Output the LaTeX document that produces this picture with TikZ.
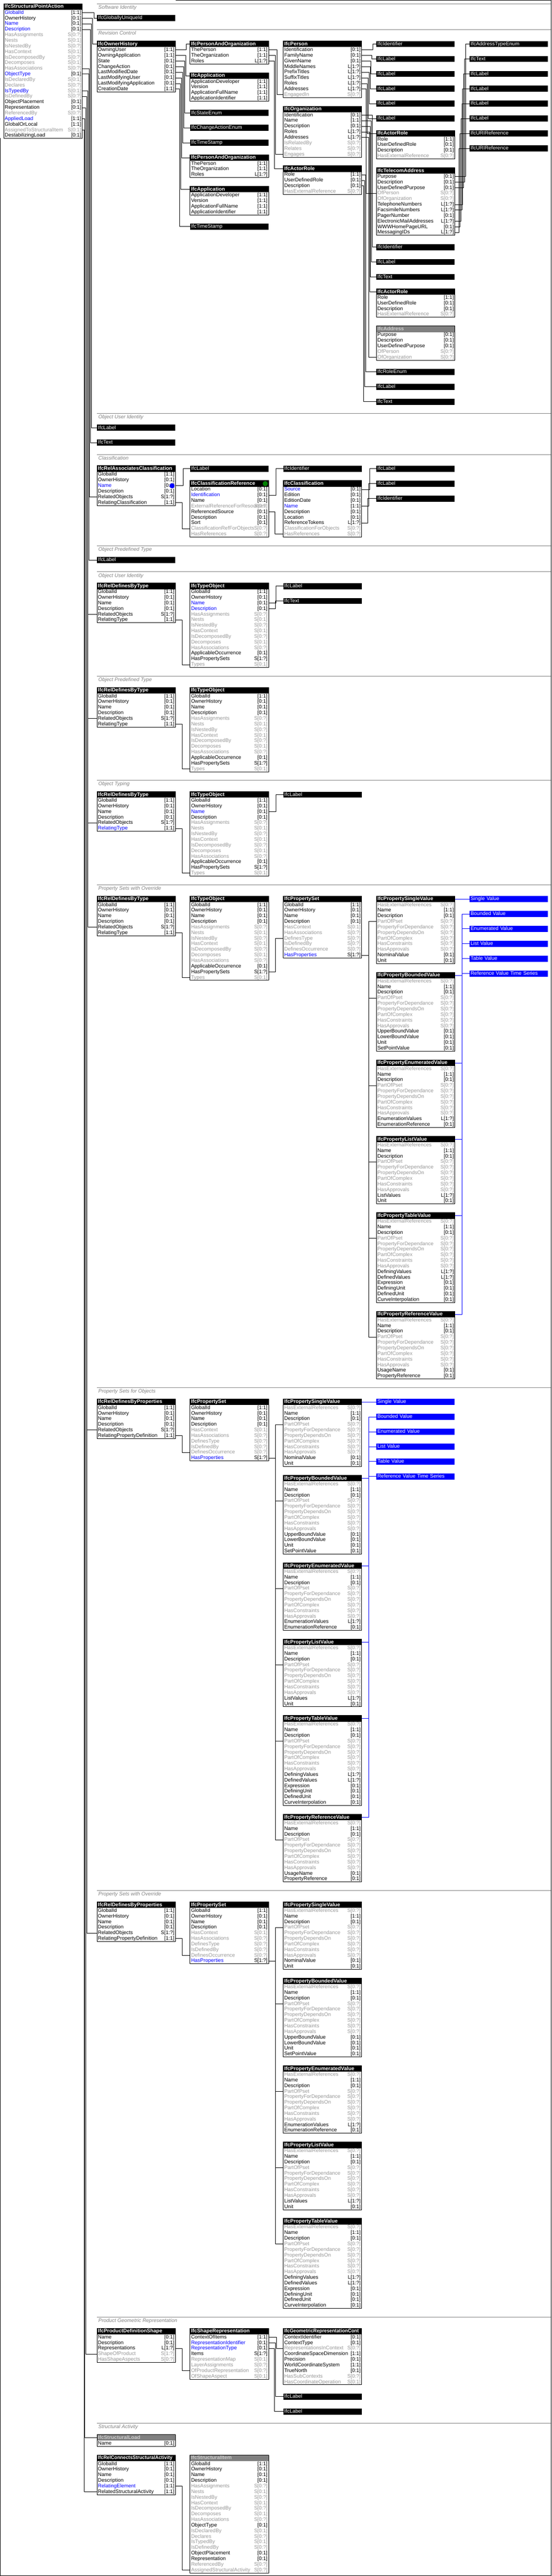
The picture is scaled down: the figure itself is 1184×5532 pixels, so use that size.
\documentclass[tikz,border=0pt]{standalone}
\usepackage{fontspec}
\setmainfont{Liberation Sans}
\usepackage{graphicx}
\newcommand\rfont{\fontsize{11}{12}\selectfont}
\newcommand\hfont{\fontsize{11}{12}\selectfont\bfseries}
\newcommand\slfont{\fontsize{11}{12}\selectfont\itshape}
% row colours: name / cardinality
\definecolor{cn}{RGB}{0,0,0}\definecolor{cnc}{RGB}{0,0,0}
\definecolor{cu}{RGB}{0,0,255}\definecolor{cuc}{RGB}{0,0,0}
\definecolor{cg}{RGB}{150,150,150}\definecolor{cgc}{RGB}{150,150,150}
\definecolor{cv}{RGB}{0,0,255}\definecolor{cvc}{RGB}{150,150,150}
\definecolor{secgray}{RGB}{128,128,128}
\definecolor{absgray}{RGB}{128,128,128}
\definecolor{dotgreen}{RGB}{0,128,0}
\tikzset{
  hd/.style={anchor=north west, fill=black, text=white, font=\hfont, text width=164pt, align=left,
    inner xsep=2pt, inner ysep=1pt, text height=8.5pt, text depth=2.5pt},
  ha/.style={hd, fill=absgray, text=black!20},
  ty/.style={hd, font=\rfont},
  bvl/.style={ty, fill=blue},
  row/.style={anchor=north west, font=\rfont, text width=164pt, align=left,
    inner xsep=2pt, inner ysep=0.5pt, text height=8.5pt, text depth=2.5pt},
  card/.style={anchor=east, font=\rfont, inner xsep=2pt, inner ysep=0.5pt, text height=8.5pt, text depth=2.5pt},
  bd/.style={draw=black, line width=1pt},
  cn/.style={draw=black, line width=1pt},
  bcn/.style={draw=blue, line width=1pt},
  secline/.style={draw=secgray, line width=1pt},
  seclab/.style={anchor=north west, font=\slfont, text=secgray, inner sep=0pt}
}
\newsavebox\hbx
\newcommand\fitw[2]{\sbox\hbx{#2}\ifdim\wd\hbx>#1pt\relax\pgfmathsetmacro\fitr{#1/\the\wd\hbx}\scalebox{\fitr}[1]{\usebox\hbx}\else\usebox\hbx\fi}
% entity box: name, x, y, header style, title, rows
\newcommand\ent[6]{%
  \node[#4] (#1) at (#2,#3) {\fitw{160}{#5}};
  \edef\entrows{#6}%
  \foreach \rn/\rc/\rs [count=\i] in \entrows {%
    \node[row, text=c\rs] (#1-\i) at (#2,#3+1+12*\i) {\mbox{\rn}};
    \node[card, text=c\rs c] at (#1-\i.east) {\rc};
    \xdef\nrows{\i}}%
  \draw[bd] (#1.north west) rectangle (#1-\nrows.south east);}
\def\rhead{GlobalId/[1:1]/n, OwnerHistory/[0:1]/n, Name/[0:1]/n, Description/[0:1]/n}
\def\totail{HasAssignments/S[0:?]/g, Nests/S[0:1]/g, IsNestedBy/S[0:?]/g, HasContext/S[0:1]/g, IsDecomposedBy/S[0:?]/g, Decomposes/S[0:1]/g, HasAssociations/S[0:?]/g, ApplicableOccurrence/[0:1]/n, HasPropertySets/S[1:?]/n, Types/S[0:1]/g}
\def\psrows{\rhead, HasContext/S[0:1]/g, HasAssociations/S[0:?]/g, DefinesType/S[0:?]/g, IsDefinedBy/S[0:?]/g, DefinesOccurrence/S[0:?]/g, HasProperties/S[1:?]/u}
\def\pcom{HasExternalReferences/S[0:?]/g, Name/[1:1]/n, Description/[0:1]/n, PartOfPset/S[0:?]/g, PropertyForDependance/S[0:?]/g, PropertyDependsOn/S[0:?]/g, PartOfComplex/S[0:?]/g, HasConstraints/S[0:?]/g, HasApprovals/S[0:?]/g}
\def\arrows{Role/[1:1]/n, UserDefinedRole/[0:1]/n, Description/[0:1]/n, HasExternalReference/S[0:?]/g}
\def\paorows{ThePerson/[1:1]/n, TheOrganization/[1:1]/n, Roles/L[1:?]/n}
\def\approws{ApplicationDeveloper/[1:1]/n, Version/[1:1]/n, ApplicationFullName/[1:1]/n, ApplicationIdentifier/[1:1]/n}
\newcommand\pvals[3]{%
  \ent{sv#1}{#2}{#3}{hd}{IfcPropertySingleValue}{\pcom, NominalValue/[0:1]/n, Unit/[0:1]/n}
  \ent{bv#1}{#2}{#3+164}{hd}{IfcPropertyBoundedValue}{\pcom, UpperBoundValue/[0:1]/n, LowerBoundValue/[0:1]/n, Unit/[0:1]/n, SetPointValue/[0:1]/n}
  \ent{ev#1}{#2}{#3+352}{hd}{IfcPropertyEnumeratedValue}{\pcom, EnumerationValues/L[1:?]/n, EnumerationReference/[0:1]/n}
  \ent{lv#1}{#2}{#3+516}{hd}{IfcPropertyListValue}{\pcom, ListValues/L[1:?]/n, Unit/[0:1]/n}
  \ent{tv#1}{#2}{#3+680}{hd}{IfcPropertyTableValue}{\pcom, DefiningValues/L[1:?]/n, DefinedValues/L[1:?]/n, Expression/[0:1]/n, DefiningUnit/[0:1]/n, DefinedUnit/[0:1]/n, CurveInterpolation/[0:1]/n}}
\newcommand\pref[3]{\ent{rv#1}{#2}{#3}{hd}{IfcPropertyReferenceValue}{\pcom, UsageName/[0:1]/n, PropertyReference/[0:1]/n}}
\begin{document}
\begin{tikzpicture}[x=1pt, y=-1pt, font=\rfont, line join=round]
\useasboundingbox (0,0) rectangle (1184,5532);
\draw[bd] (377,0.5) -- (1183.5,0.5) -- (1183.5,5531.5) -- (0.5,5531.5) -- (0.5,297);
% sections
\foreach \yy/\tx [count=\k] in {8/Software Identity, 64/Revision Control, 888/Object User Identity, 976/Classification, 1172/Object Predefined Type, 1228/Object User Identity, 1452/Object Predefined Type, 1676/Object Typing, 1900/Property Sets with Override, 2980/Property Sets for Objects, 4060/Property Sets with Override, 4976/Product Geometric Representation, 5204/Structural Activity}{
  \draw[secline] (208,\yy) -- (1183,\yy);
  \node[seclab] (sec\k) at (211,\yy+3) {\tx};}

\ent{spa}{8}{8}{hd}{IfcStructuralPointAction}{GlobalId/[1:1]/u, OwnerHistory/[0:1]/n, Name/[0:1]/u, Description/[0:1]/u, HasAssignments/S[0:?]/g, Nests/S[0:1]/g, IsNestedBy/S[0:?]/g, HasContext/S[0:1]/g, IsDecomposedBy/S[0:?]/g, Decomposes/S[0:1]/g, HasAssociations/S[0:?]/g, ObjectType/[0:1]/u, IsDeclaredBy/S[0:1]/g, Declares/S[0:?]/g, IsTypedBy/S[0:1]/v, IsDefinedBy/S[0:?]/g, ObjectPlacement/[0:1]/n, Representation/[0:1]/n, ReferencedBy/S[0:?]/g, AppliedLoad/[1:1]/u, GlobalOrLocal/[1:1]/n, AssignedToStructuralItem/S[0:1]/g, DestabilizingLoad/[0:1]/n}

% software identity, revision control
\node[ty] (guid) at (208,32) {IfcGloballyUniqueId};
\ent{oh}{208}{88}{hd}{IfcOwnerHistory}{OwningUser/[1:1]/n, OwningApplication/[1:1]/n, State/[0:1]/n, ChangeAction/[0:1]/n, LastModifiedDate/[0:1]/n, LastModifyingUser/[0:1]/n, LastModifyingApplication/[0:1]/n, CreationDate/[1:1]/n}
\ent{paoa}{408}{88}{hd}{IfcPersonAndOrganization}{\paorows}
\ent{appa}{408}{156}{hd}{IfcApplication}{\approws}
\node[ty] (stat) at (408,236) {IfcStateEnum};
\node[ty] (chg) at (408,268) {IfcChangeActionEnum};
\node[ty] (tsa) at (408,300) {IfcTimeStamp};
\ent{paob}{408}{332}{hd}{IfcPersonAndOrganization}{\paorows}
\ent{appb}{408}{400}{hd}{IfcApplication}{\approws}
\node[ty] (tsb) at (408,480) {IfcTimeStamp};
\ent{per}{608}{88}{hd}{IfcPerson}{Identification/[0:1]/n, FamilyName/[0:1]/n, GivenName/[0:1]/n, MiddleNames/L[1:?]/n, PrefixTitles/L[1:?]/n, SuffixTitles/L[1:?]/n, Roles/L[1:?]/n, Addresses/L[1:?]/n, EngagedIn/S[0:?]/g}
\ent{org}{608}{228}{hd}{IfcOrganization}{Identification/[0:1]/n, Name/[1:1]/n, Description/[0:1]/n, Roles/L[1:?]/n, Addresses/L[1:?]/n, IsRelatedBy/S[0:?]/g, Relates/S[0:?]/g, Engages/S[0:?]/g}
\ent{ara}{608}{356}{hd}{IfcActorRole}{\arrows}
\foreach \nm/\yy/\tx in {pid/88/IfcIdentifier, pla/120/IfcLabel, plb/152/IfcLabel, plc/184/IfcLabel, pld/216/IfcLabel, ple/248/IfcLabel, oid/524/IfcIdentifier, olab/556/IfcLabel, otxt/588/IfcText, renum/792/IfcRoleEnum, rlab/824/IfcLabel, rtxt/856/IfcText}
  \node[ty] (\nm) at (808,\yy) {\tx};
\ent{arb}{808}{280}{hd}{IfcActorRole}{\arrows}
\ent{tel}{808}{360}{hd}{IfcTelecomAddress}{Purpose/[0:1]/n, Description/[0:1]/n, UserDefinedPurpose/[0:1]/n, OfPerson/S[0:?]/g, OfOrganization/S[0:?]/g, TelephoneNumbers/L[1:?]/n, FacsimileNumbers/L[1:?]/n, PagerNumber/[0:1]/n, ElectronicMailAddresses/L[1:?]/n, WWWHomePageURL/[0:1]/n, MessagingIDs/L[1:?]/n}
\ent{arc}{808}{620}{hd}{IfcActorRole}{\arrows}
\ent{adr}{808}{700}{ha}{IfcAddress}{Purpose/[0:1]/n, Description/[0:1]/n, UserDefinedPurpose/[0:1]/n, OfPerson/S[0:?]/g, OfOrganization/S[0:?]/g}
\foreach \nm/\yy/\tx in {ate/88/IfcAddressTypeEnum, ttxt/120/IfcText, tla/152/IfcLabel, tlb/184/IfcLabel, tlc/216/IfcLabel, tld/248/IfcLabel, ura/280/IfcURIReference, urb/312/IfcURIReference}
  \node[ty] (\nm) at (1008,\yy) {\tx};

% object user identity, classification, predefined type
\node[ty] (ouilab) at (208,912) {IfcLabel};
\node[ty] (ouitxt) at (208,944) {IfcText};
\ent{rac}{208}{1000}{hd}{IfcRelAssociatesClassification}{GlobalId/[1:1]/n, OwnerHistory/[0:1]/n, Name/[0:1]/u, Description/[0:1]/n, RelatedObjects/S[1:?]/n, RelatingClassification/[1:1]/n}
\node[ty] (clab) at (408,1000) {IfcLabel};
\ent{cref}{408}{1032}{hd}{IfcClassificationReference}{Location/[0:1]/n, Identification/[0:1]/u, Name/[0:1]/n, ExternalReferenceForResources/S[0:?]/g, ReferencedSource/[0:1]/n, Description/[0:1]/n, Sort/[0:1]/n, ClassificationRefForObjects/S[0:?]/g, HasReferences/S[0:?]/g}
\node[ty] (cid) at (608,1000) {IfcIdentifier};
\ent{cls}{608}{1032}{hd}{IfcClassification}{Source/[0:1]/u, Edition/[0:1]/n, EditionDate/[0:1]/n, Name/[1:1]/u, Description/[0:1]/n, Location/[0:1]/n, ReferenceTokens/L[1:?]/n, ClassificationForObjects/S[0:?]/g, HasReferences/S[0:?]/g}
\node[ty] (xla) at (808,1000) {IfcLabel};
\node[ty] (xlb) at (808,1032) {IfcLabel};
\node[ty] (xid) at (808,1064) {IfcIdentifier};
\fill[blue] ([xshift=-7pt]rac-3.east) circle (5.5pt);
\fill[dotgreen] ([xshift=-7pt]cref.east) circle (5.5pt);
\node[ty] (optlab) at (208,1196) {IfcLabel};

% typing
\ent{rdta}{208}{1252}{hd}{IfcRelDefinesByType}{\rhead, RelatedObjects/S[1:?]/n, RelatingType/[1:1]/n}
\ent{toa}{408}{1252}{hd}{IfcTypeObject}{GlobalId/[1:1]/n, OwnerHistory/[0:1]/n, Name/[0:1]/u, Description/[0:1]/u, \totail}
\node[ty] (ula) at (608,1252) {IfcLabel};
\node[ty] (uta) at (608,1284) {IfcText};
\ent{rdtb}{208}{1476}{hd}{IfcRelDefinesByType}{\rhead, RelatedObjects/S[1:?]/n, RelatingType/[1:1]/n}
\ent{tob}{408}{1476}{hd}{IfcTypeObject}{\rhead, \totail}
\ent{rdtc}{208}{1700}{hd}{IfcRelDefinesByType}{\rhead, RelatedObjects/S[1:?]/n, RelatingType/[1:1]/u}
\ent{toc}{408}{1700}{hd}{IfcTypeObject}{GlobalId/[1:1]/n, OwnerHistory/[0:1]/n, Name/[0:1]/u, Description/[0:1]/n, \totail}
\node[ty] (ulc) at (608,1700) {IfcLabel};

% property sets with override
\ent{rdtd}{208}{1924}{hd}{IfcRelDefinesByType}{\rhead, RelatedObjects/S[1:?]/n, RelatingType/[1:1]/n}
\ent{tod}{408}{1924}{hd}{IfcTypeObject}{\rhead, \totail}
\ent{psa}{608}{1924}{hd}{IfcPropertySet}{\psrows}
\pvals{a}{808}{1924}
\pref{a}{808}{2816}
\foreach \tx [count=\k] in {Single Value, Bounded Value, Enumerated Value, List Value, Table Value, Reference Value Time Series}
  \node[bvl] (bla\k) at (1008,1892+32*\k) {\tx};

% property sets for objects
\ent{rdpa}{208}{3004}{hd}{IfcRelDefinesByProperties}{\rhead, RelatedObjects/S[1:?]/n, RelatingPropertyDefinition/[1:1]/n}
\ent{psb}{408}{3004}{hd}{IfcPropertySet}{\psrows}
\pvals{b}{608}{3004}
\pref{b}{608}{3896}
\foreach \tx [count=\k] in {Single Value, Bounded Value, Enumerated Value, List Value, Table Value, Reference Value Time Series}
  \node[bvl] (blb\k) at (808,2972+32*\k) {\tx};

% property sets with override
\ent{rdpb}{208}{4084}{hd}{IfcRelDefinesByProperties}{\rhead, RelatedObjects/S[1:?]/n, RelatingPropertyDefinition/[1:1]/n}
\ent{psc}{408}{4084}{hd}{IfcPropertySet}{\psrows}
\pvals{c}{608}{4084}

% product geometric representation
\ent{pds}{208}{5000}{hd}{IfcProductDefinitionShape}{Name/[0:1]/n, Description/[0:1]/n, Representations/L[1:?]/n, ShapeOfProduct/S[1:?]/g, HasShapeAspects/S[0:?]/g}
\ent{shr}{408}{5000}{hd}{IfcShapeRepresentation}{ContextOfItems/[1:1]/n, RepresentationIdentifier/[0:1]/u, RepresentationType/[0:1]/u, Items/S[1:?]/n, RepresentationMap/S[0:1]/g, LayerAssignments/S[0:?]/g, OfProductRepresentation/S[0:?]/g, OfShapeAspect/S[0:1]/g}
\ent{grc}{608}{5000}{hd}{IfcGeometricRepresentationCont}{ContextIdentifier/[0:1]/n, ContextType/[0:1]/n, RepresentationsInContext/S[0:?]/g, CoordinateSpaceDimension/[1:1]/n, Precision/[0:1]/n, WorldCoordinateSystem/[1:1]/n, TrueNorth/[0:1]/n, HasSubContexts/S[0:?]/g, HasCoordinateOperation/S[0:1]/g}
\node[ty] (gla) at (608,5140) {IfcLabel};
\node[ty] (glb) at (608,5172) {IfcLabel};

% structural activity
\ent{sload}{208}{5228}{ha}{IfcStructuralLoad}{Name/[0:1]/n}
\ent{rcsa}{208}{5272}{hd}{IfcRelConnectsStructuralActivity}{\rhead, RelatingElement/[1:1]/u, RelatedStructuralActivity/[1:1]/n}
\ent{sitem}{408}{5272}{ha}{IfcStructuralItem}{\rhead, HasAssignments/S[0:?]/g, Nests/S[0:1]/g, IsNestedBy/S[0:?]/g, HasContext/S[0:1]/g, IsDecomposedBy/S[0:?]/g, Decomposes/S[0:1]/g, HasAssociations/S[0:?]/g, ObjectType/[0:1]/n, IsDeclaredBy/S[0:1]/g, Declares/S[0:?]/g, IsTypedBy/S[0:1]/g, IsDefinedBy/S[0:?]/g, ObjectPlacement/[0:1]/n, Representation/[0:1]/n, ReferencedBy/S[0:?]/g, AssignedStructuralActivity/S[0:?]/g}

% connectors from the root
\foreach \s/\d/\t in {1/26/guid, 2/22/oh, 3/20/ouilab, 4/18/ouitxt, 11/16/rac-5, 12/14/optlab, 15/12/rdta-5, 15/12/rdtb-5, 15/12/rdtc-5, 15/12/rdtd-5, 16/10/rdpa-5, 16/10/rdpb-5, 18/8/pds-4, 20/6/sload, 22/4/rcsa-6}
  \draw[cn] (spa-\s.east) -- ++(\d,0) |- (\t.west);
% revision control
\foreach \s/\d/\t in {1/24/paoa, 2/22/appa, 3/20/stat, 4/18/chg, 5/16/tsa, 6/13/paob, 7/11/appb, 8/9/tsb}
  \draw[cn] (oh-\s.east) -- ++(\d,0) |- (\t.west);
\foreach \s/\d/\t in {1/18/per-9, 2/15/org-8, 3/13/ara}
  \draw[cn] (paoa-\s.east) -- ++(\d,0) |- (\t.west);
\foreach \s/\d/\t in {1/24/pid, 2/22/pla, 3/20/plb, 4/18/plc, 5/16/pld, 6/14/ple, 7/12/arb, 8/10/tel-4}
  \draw[cn] (per-\s.east) -- ++(\d,0) |- (\t.west);
\foreach \s/\d/\t in {1/23/oid, 2/21/olab, 3/19/otxt, 4/17/arc, 5/15/adr-5}
  \draw[cn] (org-\s.east) -- ++(\d,0) |- (\t.west);
\foreach \s/\d/\t in {1/8/renum, 2/6/rlab, 3/4/rtxt}
  \draw[cn] (ara-\s.east) -- ++(\d,0) |- (\t.west);
\foreach \s/\d/\t in {1/23/ate, 2/21/ttxt, 3/19/tla, 6/17/tlb, 7/15/tlc, 9/13/tld, 10/11/ura, 11/9/urb}
  \draw[cn] (tel-\s.east) -- ++(\d,0) |- (\t.west);
% classification
\draw[cn] (rac-3.east) -- ++(17,0) |- (clab.west);
\draw[cn] (rac-6.east) -- ++(15,0) |- (cref-8.west);
\draw[cn] (cref-2.east) -- ++(16,0) |- (cid.west);
\draw[cn] (cref-5.east) -- ++(14,0) |- (cls-9.west);
\foreach \s/\d/\t in {1/17/xla, 4/15/xlb, 7/13/xid}
  \draw[cn] (cls-\s.east) -- ++(\d,0) |- (\t.west);
% typing
\foreach \r/\t in {rdta/toa, rdtb/tob, rdtc/toc, rdtd/tod}
  \draw[cn] (\r-6.east) -- ++(15,0) |- (\t-14.west);
\draw[cn] (toa-3.east) -- ++(16,0) |- (ula.west);
\draw[cn] (toa-4.east) -- ++(15,0) |- (uta.west);
\draw[cn] (toc-3.east) -- ++(16,0) |- (ulc.west);
\draw[cn] (tod-13.east) -- ++(15,0) |- (psa-7.west);
% property sets
\draw[cn] (rdpa-6.east) -- ++(15,0) |- (psb-9.west);
\draw[cn] (rdpb-6.east) -- ++(15,0) |- (psc-9.west);
\foreach \v [count=\k] in {sva,bva,eva,lva,tva,rva}{
  \draw[cn] (psa-10.east) -- ++(15,0) |- (\v-4.west);
  \draw[bcn] (\v.east) -- ++(15,0) |- (bla\k.west);}
\foreach \v [count=\k] in {svb,bvb,evb,lvb,tvb,rvb}{
  \draw[cn] (psb-10.east) -- ++(15,0) |- (\v-4.west);
  \draw[bcn] (\v.east) -- ++(15,0) |- (blb\k.west);}
\foreach \v in {svc,bvc,evc,lvc,tvc}
  \draw[cn] (psc-10.east) -- ++(15,0) |- (\v-4.west);
% representation, structural activity
\draw[cn] (pds-3.east) -- ++(15,0) |- (shr-7.west);
\draw[cn] (shr-1.east) -- ++(17,0) |- (grc-3.west);
\draw[cn] (shr-2.east) -- ++(15,0) |- (gla.west);
\draw[cn] (shr-3.east) -- ++(13,0) |- (glb.west);
\draw[cn] (rcsa-5.east) -- ++(15,0) |- (sitem-20.west);
\end{tikzpicture}
\end{document}
